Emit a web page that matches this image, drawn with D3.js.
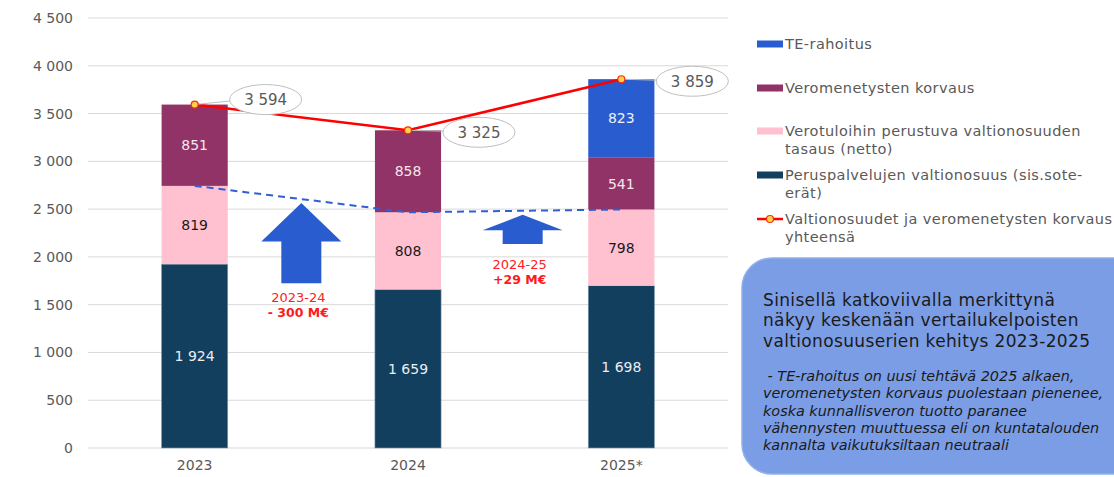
<!DOCTYPE html>
<html>
<head>
<meta charset="utf-8">
<script src="https://cdn.jsdelivr.net/npm/d3@7"></script>
<style>
  body { margin: 0; background: #fff; }
  text { font-family: "DejaVu Sans", sans-serif; }
</style>
</head>
<body>
<svg width="1114" height="477"></svg>
<script>
// chart values
let years = ["2023", "2024", "2025*"];
let perus = [1924, 1659, 1698];
let tasaus = [819, 808, 798];
let korvaus = [851, 858, 541];
let teRahoitus = [0, 0, 823];
let totals = [3594, 3325, 3859];
let comparable = [2743, 2467, 2496];
let yTicks = [0, 500, 1000, 1500, 2000, 2500, 3000, 3500, 4000, 4500];

// change arrows between years
let arrowTop = [2565, 2440];
let arrowNeck = [2160, 2280];
let arrowBottom = [1725, 2135];
let changeYears = ["2023-24", "2024-25"];
let changeValues = ["- 300 M€", "+29 M€"];
let changeLabelAt = [1580, 1925];

let keys = ["perus", "tasaus", "korvaus", "te"];
let colors = {perus: "#133f5f", tasaus: "#ffc0cf", korvaus: "#913366", te: "#285ccf"};
let labelColors = {perus: "#e8eef3", tasaus: "#1a1a1a", korvaus: "#f6e6ef", te: "#eef2fb"};

let table = years.map(function (y, i) {
    return {year: y, perus: perus[i], tasaus: tasaus[i], korvaus: korvaus[i], te: teRahoitus[i]};
});

let svg = d3.select("svg"),
    margin = {top: 18, left: 88, right: 386, bottom: 29},
    W = +svg.attr("width"), H = +svg.attr("height");

let x = d3.scaleBand().domain(years).range([margin.left, W - margin.right]).paddingInner(0.69).paddingOuter(0.345);
let y = d3.scaleLinear().domain([0, 4500]).range([H - margin.bottom, margin.top]);
let fmt = function (v) { return d3.format(",")(v).replace(/,/g, " "); };
let cx = function (d) { return x(d) + x.bandwidth() / 2; };

// grid
svg.append("g").selectAll("line").data(yTicks).enter().append("line")
    .attr("x1", margin.left).attr("x2", W - margin.right)
    .attr("y1", function (d) { return y(d); }).attr("y2", function (d) { return y(d); })
    .attr("stroke", "#d9d9d9").attr("stroke-width", 1);

// y axis
let yAxis = d3.axisLeft(y).tickValues(yTicks).tickFormat(fmt).tickSize(0).tickPadding(15);
let ya = svg.append("g").attr("transform", "translate(" + margin.left + ",0)").call(yAxis);
ya.select(".domain").remove();
ya.selectAll("text").attr("fill", "#595959").style("font-size", "14px").style("font-family", "DejaVu Sans");

// x axis
let xAxis = d3.axisBottom(x).tickSize(0).tickPadding(12);
let xa = svg.append("g").attr("transform", "translate(0," + (H - margin.bottom) + ")").call(xAxis);
xa.select(".domain").remove();
xa.selectAll("text").attr("fill", "#595959").style("font-size", "14px").style("font-family", "DejaVu Sans");

// stacked bars
let series = d3.stack().keys(keys)(table);
let layers = svg.append("g").selectAll("g").data(series).enter().append("g");
layers.selectAll("rect").data(function (s) { return s.map(function (d) { d.key = s.key; return d; }); })
    .enter().append("rect")
    .attr("x", function (d) { return x(d.data.year); })
    .attr("width", x.bandwidth())
    .attr("y", function (d) { return y(d[1]); })
    .attr("height", function (d) { return y(d[0]) - y(d[1]); })
    .attr("fill", function (d) { return colors[d.key]; })
    .attr("stroke", function (d) { return d.key === "perus" ? "#7f99ad" : "none"; })
    .attr("stroke-width", 0.6);

layers.selectAll("text").data(function (s) { return s.filter(function (d) { return d[1] - d[0] > 0; }); })
    .enter().append("text")
    .attr("x", function (d) { return cx(d.data.year); })
    .attr("y", function (d) { return y((d[0] + d[1]) / 2); })
    .attr("dy", "0.35em")
    .attr("text-anchor", "middle")
    .attr("fill", function (d) { return labelColors[d.key]; })
    .style("font-size", "14px")
    .text(function (d) { return fmt(d[1] - d[0]); });

// dashed comparable line
let line = d3.line().x(function (d, i) { return cx(years[i]); }).y(function (d) { return y(d); });
svg.append("path").attr("d", line(comparable))
    .attr("fill", "none").attr("stroke", "#2f5fd3").attr("stroke-width", 2)
    .attr("stroke-dasharray", "7,5");

// arrows
let arrowX = function (i) { return (cx(years[i]) + cx(years[i + 1])) / 2 + (i === 1 ? 8 : 0); };
svg.append("g").selectAll("path").data(arrowTop).enter().append("path")
    .attr("d", function (d, i) {
        let ax = arrowX(i), head = 40, shaft = 20;
        return "M" + ax + "," + y(d) +
            "L" + (ax + head) + "," + y(arrowNeck[i]) +
            "L" + (ax + shaft) + "," + y(arrowNeck[i]) +
            "L" + (ax + shaft) + "," + y(arrowBottom[i]) +
            "L" + (ax - shaft) + "," + y(arrowBottom[i]) +
            "L" + (ax - shaft) + "," + y(arrowNeck[i]) +
            "L" + (ax - head) + "," + y(arrowNeck[i]) + "Z";
    })
    .attr("fill", "#285ccf");

let chg = svg.append("g").selectAll("g").data(changeYears).enter().append("g");
chg.append("text")
    .attr("x", function (d, i) { return arrowX(i) - 3; })
    .attr("y", function (d, i) { return y(changeLabelAt[i]); })
    .attr("dy", "0.35em")
    .attr("text-anchor", "middle").attr("fill", "#ff2020")
    .style("font-size", "13px").text(function (d) { return d; });
chg.append("text")
    .attr("x", function (d, i) { return arrowX(i) - 3; })
    .attr("y", function (d, i) { return y(changeLabelAt[i]) + 16; })
    .attr("dy", "0.35em")
    .attr("text-anchor", "middle").attr("fill", "#ff1a1a")
    .style("font-size", "12.5px").style("font-weight", "bold")
    .text(function (d, i) { return changeValues[i]; });

// total line
svg.append("path").attr("d", line(totals))
    .attr("fill", "none").attr("stroke", "#ff0000").attr("stroke-width", 2.5);

// callouts
let call = svg.append("g").selectAll("g").data(totals).enter().append("g");
call.append("line")
    .attr("x1", function (d, i) { return cx(years[i]); })
    .attr("y1", function (d) { return y(d); })
    .attr("x2", function (d, i) { return cx(years[i]) + 40; })
    .attr("y2", function (d, i) { return y(d) + (i === 0 ? -4 : 1); })
    .attr("stroke", "#bfbfbf").attr("stroke-width", 1);
call.append("ellipse")
    .attr("cx", function (d, i) { return cx(years[i]) + 71; })
    .attr("cy", function (d, i) { return y(d) + (i === 0 ? -5 : 2); })
    .attr("rx", 36).attr("ry", 15)
    .attr("fill", "#fff").attr("stroke", "#bfbfbf").attr("stroke-width", 1);
call.append("text")
    .attr("x", function (d, i) { return cx(years[i]) + 71; })
    .attr("y", function (d, i) { return y(d) + (i === 0 ? -5 : 2); })
    .attr("dy", "0.35em").attr("text-anchor", "middle")
    .attr("fill", "#595959").style("font-size", "15px")
    .text(function (d) { return fmt(d); });

svg.append("g").selectAll("circle").data(totals).enter().append("circle")
    .attr("cx", function (d, i) { return cx(years[i]); })
    .attr("cy", function (d) { return y(d); })
    .attr("r", 3.5).attr("fill", "#ffd34d").attr("stroke", "#ff2a00").attr("stroke-width", 1.2);

// legend
let legendItems = [
    {lines: ["TE-rahoitus"], color: colors.te, y: 44},
    {lines: ["Veromenetysten korvaus"], color: colors.korvaus, y: 88},
    {lines: ["Verotuloihin perustuva valtionosuuden", "tasaus (netto)"], color: colors.tasaus, y: 131},
    {lines: ["Peruspalvelujen valtionosuus (sis.sote-", "erät)"], color: colors.perus, y: 175},
    {lines: ["Valtionosuudet ja veromenetysten korvaus", "yhteensä"], color: "line", y: 219}
];
let lg = svg.append("g").selectAll("g").data(legendItems).enter().append("g")
    .attr("transform", function (d) { return "translate(757," + d.y + ")"; });
lg.filter(function (d) { return d.color !== "line"; }).append("rect")
    .attr("x", 0).attr("y", -3.5).attr("width", 26).attr("height", 7)
    .attr("fill", function (d) { return d.color; });
let ll = lg.filter(function (d) { return d.color === "line"; });
ll.append("line").attr("x1", 0).attr("x2", 26).attr("stroke", "#ff0000").attr("stroke-width", 2.5);
ll.append("circle").attr("cx", 13).attr("r", 3.5).attr("fill", "#ffd34d").attr("stroke", "#ff2a00").attr("stroke-width", 1.2);
lg.each(function (d) {
    d3.select(this).selectAll("text.lab").data(d.lines).enter().append("text")
        .attr("class", "lab")
        .attr("x", 28).attr("y", function (t, i) { return i * 18; }).attr("dy", "0.35em")
        .attr("fill", "#595959").style("font-size", "14.5px").style("letter-spacing", "0.42px")
        .text(function (t) { return t; });
});

// info box
let box = svg.append("g");
box.append("rect").attr("x", 742).attr("y", 258).attr("width", 400).attr("height", 216)
    .attr("rx", 30).attr("ry", 30)
    .attr("fill", "#7b9de6").attr("stroke", "#8fb0ee").attr("stroke-width", 1.5);
let boxTitle = ["Sinisellä katkoviivalla merkittynä", "näkyy keskenään vertailukelpoisten", "valtionosuuserien kehitys 2023-2025"];
let boxNote = [" - TE-rahoitus on uusi tehtävä 2025 alkaen,", "veromenetysten korvaus puolestaan pienenee,",
    "koska kunnallisveron tuotto paranee", "vähennysten muuttuessa eli on kuntatalouden", "kannalta vaikutuksiltaan neutraali"];
box.append("g").selectAll("text").data(boxTitle).enter().append("text")
    .attr("x", 763).attr("y", function (d, i) { return 300 + i * 20.5; }).attr("dy", "0.35em")
    .attr("fill", "#1a1a1a").style("font-size", "17px").style("letter-spacing", "0.35px")
    .text(function (d) { return d; });
box.append("g").selectAll("text").data(boxNote).enter().append("text")
    .attr("x", 763).attr("y", function (d, i) { return 376 + i * 17.3; }).attr("dy", "0.35em")
    .attr("fill", "#1a1a1a").style("font-size", "14.4px").style("font-style", "italic")
    .attr("xml:space", "preserve").text(function (d) { return d; });
</script>
</body>
</html>
